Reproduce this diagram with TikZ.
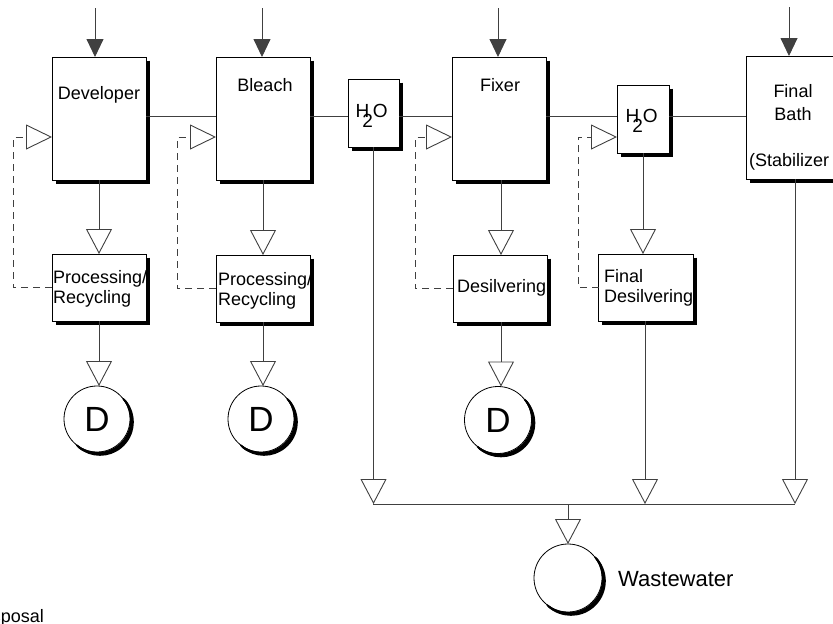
\documentclass[tikz,border=0pt]{standalone}
\usepackage{fontspec}
\setmainfont{Liberation Sans}
\usetikzlibrary{arrows.meta,calc}

\begin{document}
\begin{tikzpicture}[x=1pt,y=-1pt,
  box/.style={rectangle,draw=black,line width=0.9pt,fill=white,inner sep=0pt,outer sep=0pt},
  tank/.style={circle,draw=black,line width=0.8pt,fill=white,inner sep=0pt,outer sep=0pt,
    font=\fontsize{35pt}{35pt}\selectfont},
  lbl/.style={inner sep=0pt,font=\fontsize{18pt}{20pt}\selectfont},
  water/.style={inner sep=0pt,anchor=base west,font=\fontsize{19pt}{20pt}\selectfont},
  pipe/.style={draw=black!75,line width=0.9pt},
  feed/.style={pipe,-{Triangle[length=18pt,width=17pt]}},
  flow/.style={pipe,-{Triangle[open,length=25pt,width=26pt]}},
  back/.style={pipe,dash pattern=on 7pt off 5pt,-{Triangle[open,length=26pt,width=25pt]}},
  edgeshadow/.style={draw=black,line width=3.4pt,line cap=butt,line join=miter},
  rimshadow/.style={draw=black,line width=1.6pt,line cap=round}
]
\useasboundingbox (0,0) rectangle (833,624);
\clip (0,0) rectangle (833,624);

% process baths
\node[box,minimum width=94pt,minimum height=123pt] (dev) at (99,118.5) {};
\node[box,minimum width=94pt,minimum height=123pt] (ble) at (263,118.5) {};
\node[box,minimum width=51pt,minimum height=68pt] (h2oa) at (373.5,113) {};
\node[box,minimum width=94pt,minimum height=123pt] (fix) at (499,118.5) {};
\node[box,minimum width=52pt,minimum height=68pt] (h2ob) at (643,119) {};
\node[box,minimum width=104pt,minimum height=123pt] (fin) at (798,117.5) {};

% treatment units
\node[box,minimum width=94pt,minimum height=67pt] (proca) at (99,287.5) {};
\node[box,minimum width=94pt,minimum height=67pt] (procb) at (263,288.5) {};
\node[box,minimum width=94pt,minimum height=67pt] (desil) at (500,288.5) {};
\node[box,minimum width=95pt,minimum height=67pt] (fdesil) at (646,287.5) {};

% disposal and wastewater
\node[tank,minimum size=66pt] (da) at (97,419) {D};
\node[tank,minimum size=66pt] (db) at (261,419) {D};
\node[tank,minimum size=67pt] (dc) at (498,420) {D};
\node[tank,minimum size=68pt] (ww) at (568,578) {};

% heavy shadow strokes along the right and bottom edges of the boxes
\foreach \n in {dev,ble,h2oa,fix,h2ob,fin,proca,procb,desil,fdesil}
  \draw[edgeshadow] ($(\n.north east)+(2.1,3.5)$) -- ($(\n.south east)+(2.1,2.1)$)
    -- ($(\n.south west)+(3.5,2.1)$);

% crescent shadows on the lower right of the tanks, built from offset rims
\foreach \n/\r in {da/33,db/33,dc/33.5,ww/34}
  \foreach \d in {0.9,1.6,2.3,3.0}
    \draw[rimshadow] ($(\n)+(\d,\d)+(-40:\r)$) arc[start angle=-40,end angle=130,radius=\r];

% labels
\node[lbl,anchor=base] (tdev) at (99,99) {Developer};
\node[lbl,anchor=base] (tble) at (265,91) {Bleach};
\node[lbl,anchor=base] (tfix) at (500,91) {Fixer};
\node[water] (th2oa) at (355.5,117) {H\kern-7pt\raisebox{-10pt}{2}O};
\node[water] (th2ob) at (625.5,122) {H\kern-7pt\raisebox{-10pt}{2}O};
\node[lbl,anchor=base] (tfina) at (793,97) {Final};
\node[lbl,anchor=base] (tfinb) at (793,120) {Bath};
\node[lbl,anchor=base west] (tfinc) at (749,166) {(Stabilizer};
\node[lbl,anchor=base west] (tpa1) at (53,283) {Processing/};
\node[lbl,anchor=base west] (tpa2) at (53,303) {Recycling};
\node[lbl,anchor=base west] (tpb1) at (218,285) {Processing/};
\node[lbl,anchor=base west] (tpb2) at (218,305) {Recycling};
\node[lbl,anchor=base west] (tdes) at (457,292) {Desilvering};
\node[lbl,anchor=base west] (tfd1) at (604,282) {Final};
\node[lbl,anchor=base west] (tfd2) at (604,302) {Desilvering};
\node[inner sep=0pt,anchor=base west,font=\fontsize{22pt}{24pt}\selectfont] (tww) at (618,586) {Wastewater};
\node[lbl,anchor=base east] (tdisp) at (44,622) {Disposal};

% chemical inputs
\coordinate (ina) at (95,8);
\coordinate (inb) at (262,8);
\coordinate (inc) at (498,8);
\coordinate (ind) at (789,7);
\draw[feed] (ina) -- (ina |- dev.north);
\draw[feed] (inb) -- (inb |- ble.north);
\draw[feed] (inc) -- (inc |- fix.north);
\draw[feed] (ind) -- (ind |- fin.north);

% film path through the baths
\coordinate (film) at (0,116);
\draw[pipe] (dev.east |- film) -- (ble.west |- film);
\draw[pipe] (ble.east |- film) -- (h2oa.west |- film);
\draw[pipe] (h2oa.east |- film) -- (fix.west |- film);
\draw[pipe] (fix.east |- film) -- (h2ob.west |- film);
\draw[pipe] (h2ob.east |- film) -- (fin.west |- film);

% overflow to treatment
\coordinate (fixout) at (501,180);
\coordinate (desout) at (501,322);
\coordinate (fdout) at (645,321);
\draw[flow] (dev.south) -- (proca.north);
\draw[flow] (ble.south) -- (procb.north);
\draw[flow] (fixout) -- (fixout |- desil.north);
\draw[flow] (h2ob.south) -- (h2ob.south |- fdesil.north);

% treatment to disposal
\draw[flow] (proca.south) -- (proca.south |- da.north);
\draw[flow] (procb.south) -- (procb.south |- db.north);
\draw[flow] (desout) -- (desout |- dc.north);

% recycled streams
\coordinate (ra) at (13,137);
\coordinate (rb) at (177,137);
\coordinate (rc) at (415,137);
\coordinate (rd) at (578,137);
\draw[back] (proca.west) -| (ra) -- (ra -| dev.west);
\draw[back] (procb.west) -| (rb) -- (rb -| ble.west);
\draw[back] (desil.west) -| (rc) -- (rc -| fix.west);
\draw[back] (fdesil.west) -| (rd) -- (rd -| h2ob.west);

% collection line to wastewater
\coordinate (busl) at (373,504);
\coordinate (busr) at (795,504);
\coordinate (busm) at (568,504);
\coordinate (finout) at (795,179);
\draw[pipe] (busl) -- (busr);
\draw[flow] (h2oa.south) -- (h2oa.south |- busl);
\draw[flow] (fdout) -- (fdout |- busl);
\draw[flow] (finout) -- (busr);
\draw[flow] (busm) -- (busm |- ww.north);
\end{tikzpicture}
\end{document}
